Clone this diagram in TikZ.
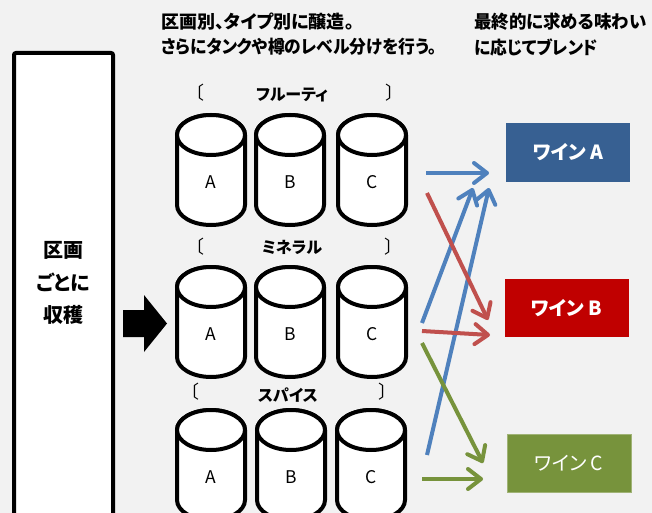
\documentclass[tikz,border=0pt]{standalone}
\usepackage{fontspec}
\usepackage{graphicx}
\setmainfont{Noto Sans CJK JP}[RawFeature=+palt]
\usetikzlibrary{arrows.meta}
\definecolor{bgc}{HTML}{F2F2F2}
\definecolor{arblue}{HTML}{4F81BD}
\definecolor{arred}{HTML}{C0504D}
\definecolor{argreen}{HTML}{77933C}
\definecolor{wineA}{HTML}{376092}
\definecolor{wineB}{HTML}{C00000}
\definecolor{wineC}{HTML}{77933C}
\newcommand\tank[4]{%
  \draw[tankline] (#1-34,#2) -- (#1-34,#2+70)
     arc[start angle=180,end angle=360,x radius=34pt,y radius=20pt]
     -- (#1+34,#2)
     arc[start angle=0,end angle=180,x radius=34pt,y radius=20pt] -- cycle;
  \draw[tankline] (#1,#2) ellipse[x radius=34pt,y radius=20pt];
  \node[tanklabel] (#4) at (#1,#2+47) {#3};
}
\begin{document}
\begin{tikzpicture}[x=1pt,y=-1pt,
  tankline/.style={line width=4pt,fill=white,draw=black},
  tanklabel/.style={font=\fontsize{17.5}{20}\selectfont,inner sep=0pt},
  head/.style={font=\bfseries\fontsize{18}{22}\selectfont,anchor=west,inner sep=0pt},
  boxtext/.style={font=\bfseries\fontsize{20}{22}\selectfont,inner sep=0pt},
  grouplabel/.style={font=\bfseries\fontsize{16}{18}\selectfont,inner sep=0pt},
  brk/.style={font=\fontsize{18}{18}\selectfont,inner sep=0pt},
  flow/.style={line width=4pt,-{Straight Barb[length=13pt,width=20pt,line cap=round,line join=round]}},
  wine/.style={minimum width=124pt,minimum height=58pt,inner sep=0pt,text=white,font=\bfseries\fontsize{19.5}{22}\selectfont}]
\fill[bgc] (0,0) rectangle (652,513);
\useasboundingbox (0,0) rectangle (652,513);
\clip (0,0) rectangle (652,513);

% headings
\node[head] (h1) at (161,22) {区画別、タイプ別に醸造。};
\node[head] (h2) at (161,47) {\scalebox{0.93}[1]{さらにタンクや樽のレベル分けを行う。}};
\node[head] (h3) at (474,22) {\scalebox{0.97}[1]{最終的に求める味わい}};
\node[head] (h4) at (474,47) {\scalebox{0.93}[1]{に応じてブレンド}};

% left box
\draw[line width=4pt,fill=white,rounded corners=2pt] (14,53) rectangle (113,530);
\node[boxtext] (k1) at (63,250) {区画};
\node[boxtext] (k2) at (63,282) {ごとに};
\node[boxtext] (k3) at (63,315) {収穫};

% big arrow
\fill[black] (123,310) -- (144,310) -- (144,295) -- (167,323.5) -- (144,352) -- (144,337) -- (123,337) -- cycle;

% group labels
\node[grouplabel] (g1) at (292,95) {フルーティ};
\node[grouplabel] (g2) at (292,247) {ミネラル};
\node[grouplabel] (g3) at (288,395) {スパイス};
\node[brk] (b1l) at (199,93) {〔};
\node[brk] (b1r) at (391,93) {〕};
\node[brk] (b2l) at (199,247) {〔};
\node[brk] (b2r) at (390,247) {〕};
\node[brk] (b3l) at (194,392) {〔};
\node[brk] (b3r) at (384,392) {〕};

% tanks
\tank{211}{135}{A}{t1a}
\tank{290}{135}{B}{t1b}
\tank{372}{135}{C}{t1c}
\tank{211}{287}{A}{t2a}
\tank{290}{287}{B}{t2b}
\tank{372}{287}{C}{t2c}
\tank{211}{430}{A}{t3a}
\tank{291}{430}{B}{t3b}
\tank{371}{430}{C}{t3c}

% wines
\node[wine,fill=wineA] (wa) at (568,152.5) {ワイン A};
\node[wine,fill=wineB] (wb) at (566.5,308) {ワイン B};
\node[wine,fill=wineC,draw=wineC!70!white,line width=1pt,font=\fontsize{19.5}{22}\selectfont] (wc) at (569,463) {ワイン C};

% flow arrows
\coordinate (s1) at (426,173);  \coordinate (e1) at (489,173);
\coordinate (s2) at (427,193);  \coordinate (e2) at (488,320);
\coordinate (s3) at (422,323);  \coordinate (e3) at (473,188);
\coordinate (s4) at (427,455);  \coordinate (e4) at (489,188);
\coordinate (s5) at (422,331);  \coordinate (e5) at (490,335);
\coordinate (s6) at (422,343);  \coordinate (e6) at (483,463);
\coordinate (s7) at (422,479);  \coordinate (e7) at (483,479);
\draw[flow,arblue] (s3) -- (e3);
\draw[flow,arblue] (s4) -- (e4);
\draw[flow,arblue] (s1) -- (e1);
\draw[flow,arred] (s2) -- (e2);
\draw[flow,arred] (s5) -- (e5);
\draw[flow,argreen] (s6) -- (e6);
\draw[flow,argreen] (s7) -- (e7);
\end{tikzpicture}
\end{document}
